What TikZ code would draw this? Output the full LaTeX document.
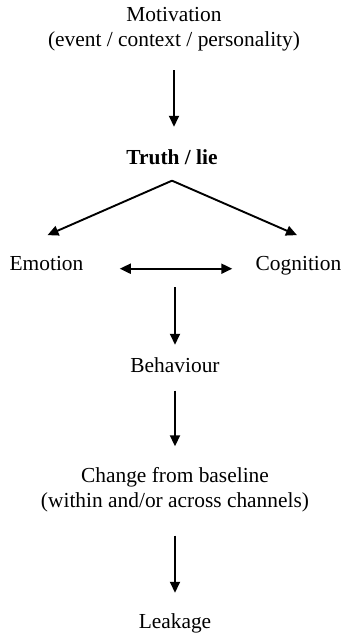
\documentclass[tikz,border=0pt]{standalone}
\usepackage{fontspec}
\setmainfont{Liberation Serif}
\usetikzlibrary{arrows.meta}

\begin{document}
\begin{tikzpicture}[
    x=0.5pt, y=-0.5pt,
    lbl/.style={inner sep=0pt, align=center, font=\fontsize{10.7}{12.5}\selectfont},
    arr/.style={-{Triangle[length=5.5pt,width=5pt]}, line width=0.95pt},
    darr/.style={{Triangle[length=5.5pt,width=5pt]}-{Triangle[length=5.5pt,width=5pt]}, line width=0.95pt}
]
    \useasboundingbox (0,0) rectangle (343,634);

    % Labels
    \node[lbl] (mot) at (174,29) {Motivation\\(event / context / personality)};
    \node[lbl, anchor=base, font=\fontsize{10.7}{12.5}\selectfont\bfseries] (truth) at (172,164) {Truth / lie};
    \node[lbl, anchor=base] (emo) at (46.5,270.7) {Emotion};
    \node[lbl, anchor=base] (cog) at (298.5,270.7) {Cognition};
    \node[lbl, anchor=base] (beh) at (175,372) {Behaviour};
    \node[lbl] (chg) at (175,490) {Change from baseline\\(within and/or across channels)};
    \node[lbl, anchor=base] (leak) at (175,628) {Leakage};

    % Helper points
    \coordinate (apex) at ([yshift=-8pt]truth.south);
    \coordinate (pair) at (175,268);

    % Arrows
    \draw[arr, shorten <=9.5pt, shorten >=11pt] (mot.south) -- (mot.south |- truth.north);
    \draw[arr] (apex) -- ([shift={(1,-21)}]emo.north);
    \draw[arr] (apex) -- ([shift={(-1.5,-21)}]cog.north);
    \draw[darr, shorten <=18pt, shorten >=11.5pt] ([yshift=1pt]emo.base east) -- ([yshift=1pt]emo.base east -| cog.west);
    \draw[arr, shorten <=9.5pt, shorten >=6pt] (pair) -- (pair |- beh.north);
    \draw[arr, shorten <=9pt, shorten >=10.5pt] (beh.south) -- (chg.north);
    \draw[arr, shorten <=11.5pt, shorten >=10pt] (chg.south) -- (leak.north);
\end{tikzpicture}
\end{document}
